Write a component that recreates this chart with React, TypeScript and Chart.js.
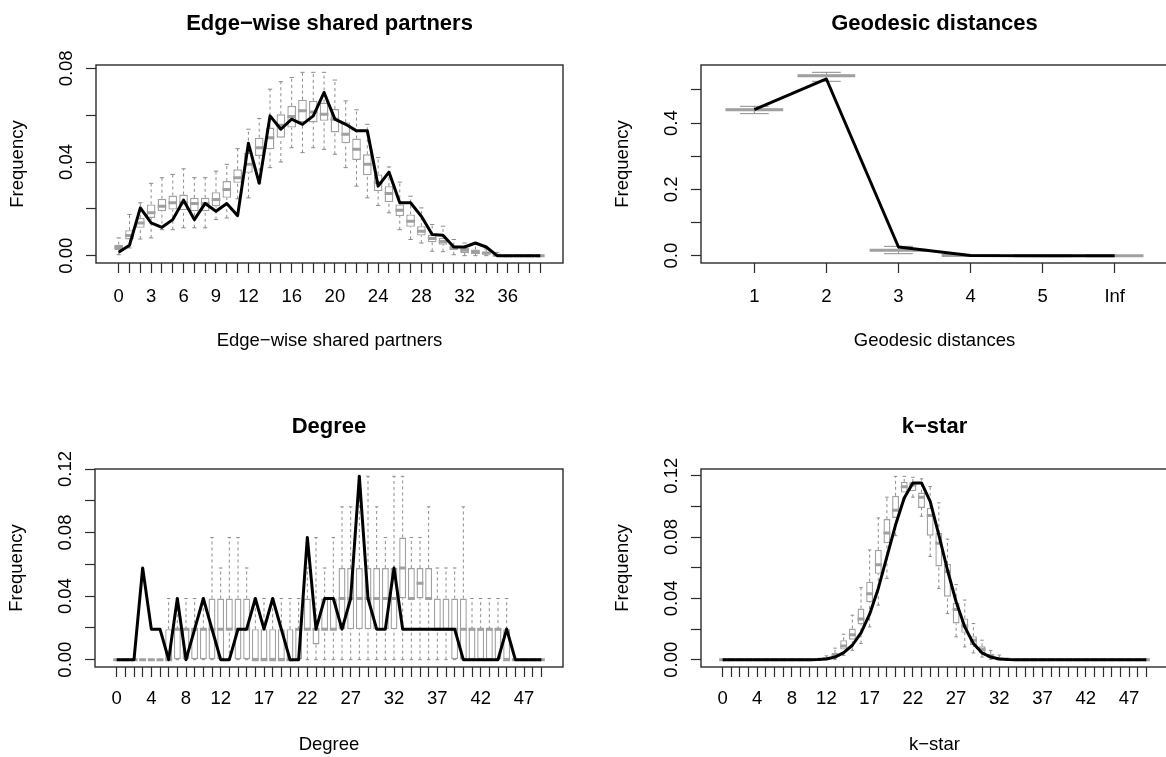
import React, { useEffect, useRef } from "react";
import { Chart, registerables } from "chart.js";

Chart.register(...registerables);

const FONT = "'Liberation Sans', Arial, Helvetica, sans-serif";

// ---------------- Panel 1: Edge-wise shared partners ----------------
const espTitle = "Edge\u2212wise shared partners";
const espCategories = ["0","1","2","3","4","5","6","7","8","9","10","11","12","13","14","15","16","17","18","19","20","21","22","23","24","25","26","27","28","29","30","31","32","33","34","35","36","37","38","39"];
const espShownLabels = ["0","3","6","9","12","16","20","24","28","32","36"];
const espObserved = [0.0015,0.0045,0.0204,0.0140,0.0121,0.0154,0.0237,0.0154,0.0223,0.0190,0.0223,0.0171,0.0480,0.0309,0.0597,0.0540,0.0583,0.0561,0.0597,0.0697,0.0583,0.0561,0.0533,0.0533,0.0297,0.0357,0.0226,0.0226,0.0168,0.0090,0.0087,0.0037,0.0037,0.0054,0.0037,0,0,0,0,0];
const espLower = [0.0004,0.0033,0.0071,0.0076,0.0111,0.0111,0.0119,0.0119,0.0119,0.0154,0.0161,0.0243,0.0247,0.0311,0.0376,0.0400,0.0461,0.0440,0.0461,0.0454,0.0433,0.0376,0.0297,0.0247,0.0214,0.0183,0.0111,0.0069,0.0054,0.0019,0.0017,0.0004,0,0,0,0,0,0,0,0];
const espQ1 = [0.0023,0.0069,0.0119,0.0161,0.0190,0.0197,0.0194,0.0190,0.0190,0.0211,0.0247,0.0311,0.0354,0.0426,0.0454,0.0504,0.0547,0.0569,0.0569,0.0576,0.0526,0.0480,0.0409,0.0343,0.0276,0.0229,0.0169,0.0123,0.0086,0.0057,0.0047,0.0023,0.0011,0.0007,0.0004,0,0,0,0,0];
const espMedian = [0.0035,0.0086,0.0140,0.0183,0.0211,0.0226,0.0226,0.0223,0.0223,0.0240,0.0283,0.0333,0.0390,0.0461,0.0504,0.0557,0.0594,0.0619,0.0614,0.0604,0.0583,0.0519,0.0454,0.0390,0.0311,0.0266,0.0194,0.0147,0.0104,0.0073,0.0061,0.0033,0.0023,0.0016,0.0011,0.0002,0,0,0,0];
const espQ3 = [0.0047,0.0109,0.0161,0.0219,0.0243,0.0257,0.0261,0.0247,0.0247,0.0271,0.0319,0.0369,0.0440,0.0504,0.0547,0.0604,0.0640,0.0666,0.0661,0.0654,0.0626,0.0570,0.0500,0.0433,0.0347,0.0297,0.0219,0.0176,0.0126,0.0090,0.0076,0.0043,0.0033,0.0026,0.0017,0.0006,0,0,0,0];
const espUpper = [0.0076,0.0176,0.0226,0.0309,0.0333,0.0347,0.0371,0.0333,0.0333,0.0361,0.0390,0.0457,0.0540,0.0586,0.0711,0.0743,0.0761,0.0783,0.0783,0.0783,0.0750,0.0661,0.0623,0.0561,0.0419,0.0379,0.0314,0.0254,0.0204,0.0133,0.0126,0.0069,0.0054,0.0047,0.0029,0.0014,0,0,0,0];
const espYTicks = [0, 0.02, 0.04, 0.06, 0.08];
const espYLabels = ["0.00", "", "0.04", "", "0.08"];

// ---------------- Panel 2: Geodesic distances ----------------
const geoTitle = "Geodesic distances";
const geoCategories = ["1","2","3","4","5","Inf"];
const geoShownLabels = ["1","2","3","4","5","Inf"];
const geoObserved = [0.4406,0.5332,0.0262,0.0005,0,0];
const geoLower = [0.4286,0.5262,0.0060,0,0,0];
const geoQ1 = [0.4370,0.5390,0.0130,0.0003,0,0];
const geoMedian = [0.4406,0.5433,0.0161,0.0008,0,0];
const geoQ3 = [0.4440,0.5470,0.0190,0.0013,0,0];
const geoUpper = [0.4507,0.5533,0.0282,0.0030,0.0002,0];
const geoYTicks = [0, 0.1, 0.2, 0.3, 0.4, 0.5];
const geoYLabels = ["0.0", "", "0.2", "", "0.4", ""];

// ---------------- Panel 3: Degree ----------------
const degTitle = "Degree";
const degCategories = ["0","1","2","3","4","5","6","7","8","9","10","11","12","13","14","15","16","17","18","19","20","21","22","23","24","25","26","27","28","29","30","31","32","33","34","35","36","37","38","39","40","41","42","43","44","45","46","47","48","49"];
const degShownLabels = ["0","4","8","12","17","22","27","32","37","42","47"];
const degObserved = [0,0,0,0.0577,0.0192,0.0192,0,0.0385,0,0.0192, 0.0385,0.0192,0,0,0.0192,0.0192,0.0385,0.0192,0.0385,0.0192, 0,0,0.0769,0.0192,0.0385,0.0385,0.0192,0.0385,0.1154,0.0385, 0.0192,0.0192,0.0577,0.0192,0.0192,0.0192,0.0192,0.0192,0.0192,0.0192, 0,0,0,0,0,0.0192,0,0,0,0];
const degLower = [0,0,0,0,0,0,0,0,0,0, 0,0,0,0,0,0,0,0,0,0, 0,0,0,0,0,0,0,0,0,0, 0,0,0,0,0,0,0,0,0,0, 0,0,0,0,0,0,0,0,0,0];
const degQ1 = [0,0,0,0,0,0,0,0,0,0, 0,0,0,0.0192,0,0,0,0,0,0, 0,0,0.0192,0.0096,0.0192,0.0192,0.0192,0.0192,0.0192,0.0192, 0.0192,0.0192,0.0192,0.0385,0.0385,0.0385,0.0385,0.0192,0.0192,0, 0,0,0,0,0,0,0,0,0,0];
const degMedian = [0,0,0,0,0,0,0,0.0192,0.0192,0.0192, 0.0192,0.0192,0.0192,0.0192,0.0192,0.0192,0,0,0,0, 0,0.0192,0.0192,0.0192,0.0192,0.0192,0.0385,0.0385,0.0385,0.0385, 0.0385,0.0385,0.0385,0.0577,0.0385,0.0481,0.0385,0.0192,0.0192,0.0192, 0.0192,0.0192,0.0192,0.0192,0.0192,0,0,0,0,0];
const degQ3 = [0,0,0,0,0,0,0.0192,0.0192,0.0192,0.0192, 0.0192,0.0385,0.0385,0.0385,0.0385,0.0385,0.0192,0.0192,0.0192,0.0192, 0.0192,0.0192,0.0385,0.0192,0.0385,0.0385,0.0577,0.0577,0.0577,0.0577, 0.0577,0.0577,0.0577,0.0769,0.0577,0.0577,0.0577,0.0385,0.0385,0.0385, 0.0385,0.0192,0.0192,0.0192,0.0192,0.0192,0,0,0,0];
const degUpper = [0,0,0,0,0,0,0.0385,0.0385,0.0385,0.0385, 0.0385,0.0769,0.0577,0.0769,0.0769,0.0577,0.0385,0.0385,0.0385,0.0385, 0.0385,0.0385,0.0577,0.0769,0.0577,0.0769,0.0962,0.0962,0.1154,0.1154, 0.0962,0.0769,0.1154,0.1154,0.0769,0.0769,0.0962,0.0577,0.0577,0.0577, 0.0962,0.0385,0.0385,0.0385,0.0385,0.0385,0,0,0,0];
const degYTicks = [0, 0.02, 0.04, 0.06, 0.08, 0.10, 0.12];
const degYLabels = ["0.00", "", "0.04", "", "0.08", "", "0.12"];

// ---------------- Panel 4: k-star ----------------
const ksTitle = "k\u2212star";
const ksCategories = ["0","1","2","3","4","5","6","7","8","9","10","11","12","13","14","15","16","17","18","19","20","21","22","23","24","25","26","27","28","29","30","31","32","33","34","35","36","37","38","39","40","41","42","43","44","45","46","47","48","49"];
const ksShownLabels = ["0","4","8","12","17","22","27","32","37","42","47"];
const ksObserved = [0,0,0,0,0,0,0,0,0,0, 0,0.0001,0.0004,0.0017,0.0046,0.0094,0.0175,0.0297,0.0465,0.0672, 0.0880,0.1055,0.1153,0.1153,0.1033,0.0814,0.0585,0.0378,0.0214,0.0105, 0.0044,0.0017,0.0004,0.0001,0,0,0,0,0,0, 0,0,0,0,0,0,0,0,0,0];
const ksLower = [0,0,0,0,0,0,0,0,0,0, 0,0,0,0.0002,0.0028,0.0061,0.0105,0.0214,0.0356,0.0530, 0.0809,0.1050,0.1060,0.0936,0.0673,0.0465,0.0301,0.0149,0.0083,0.0044, 0.0017,0.0002,0,0,0,0,0,0,0,0, 0,0,0,0,0,0,0,0,0,0];
const ksQ1 = [0,0,0,0,0,0,0,0,0,0, 0,0,0.0003,0.0017,0.0066,0.0130,0.0230,0.0375,0.0560,0.0760, 0.0925,0.1090,0.1100,0.0990,0.0809,0.0608,0.0411,0.0236,0.0175,0.0094, 0.0044,0.0013,0.0002,0,0,0,0,0,0,0, 0,0,0,0,0,0,0,0,0,0];
const ksMedian = [0,0,0,0,0,0,0,0,0,0, 0,0.0001,0.0007,0.0028,0.0090,0.0162,0.0265,0.0430,0.0620,0.0826, 0.0975,0.1128,0.1140,0.1060,0.0940,0.0760,0.0575,0.0328,0.0219,0.0127, 0.0066,0.0024,0.0006,0.0001,0,0,0,0,0,0, 0,0,0,0,0,0,0,0,0,0];
const ksQ3 = [0,0,0,0,0,0,0,0,0,0, 0,0.0003,0.0012,0.0044,0.0127,0.0203,0.0334,0.0509,0.0716,0.0917, 0.1069,0.1160,0.1160,0.1090,0.0990,0.0826,0.0625,0.0371,0.0269,0.0153, 0.0087,0.0039,0.0013,0.0003,0,0,0,0,0,0, 0,0,0,0,0,0,0,0,0,0];
const ksUpper = [0,0,0,0,0,0,0,0,0,0, 0,0.0008,0.0025,0.0075,0.0166,0.0290,0.0470,0.0716,0.0925,0.1060, 0.1196,0.1196,0.1190,0.1180,0.1130,0.1023,0.0787,0.0490,0.0389,0.0236, 0.0127,0.0060,0.0030,0.0010,0,0,0,0,0,0, 0,0,0,0,0,0,0,0,0,0];
const ksYTicks = [0, 0.02, 0.04, 0.06, 0.08, 0.10, 0.12];
const ksYLabels = ["0.00", "", "0.04", "", "0.08", "", "0.12"];

// ---------------- panel specs (built from the arrays) ----------------
const panels = [
  { title: espTitle, xTitle: espTitle, categories: espCategories, shown: espShownLabels, observed: espObserved, lower: espLower, q1: espQ1, median: espMedian, q3: espQ3, upper: espUpper, yTicks: espYTicks, yLabels: espYLabels, xMin: -2.1, xMax: 41.1, yMin: -0.00313, yMax: 0.08143 },
  { title: geoTitle, xTitle: geoTitle, categories: geoCategories, shown: geoShownLabels, observed: geoObserved, lower: geoLower, q1: geoQ1, median: geoMedian, q3: geoQ3, upper: geoUpper, yTicks: geoYTicks, yLabels: geoYLabels, xMin: -0.74, xMax: 5.74, yMin: -0.0221, yMax: 0.5754 },
  { title: degTitle, xTitle: degTitle, categories: degCategories, shown: degShownLabels, observed: degObserved, lower: degLower, q1: degQ1, median: degMedian, q3: degQ3, upper: degUpper, yTicks: degYTicks, yLabels: degYLabels, xMin: -2.5, xMax: 51.5, yMin: -0.00462, yMax: 0.12 },
  { title: ksTitle, xTitle: ksTitle, categories: ksCategories, shown: ksShownLabels, observed: ksObserved, lower: ksLower, q1: ksQ1, median: ksMedian, q3: ksQ3, upper: ksUpper, yTicks: ksYTicks, yLabels: ksYLabels, xMin: -2.5, xMax: 51.5, yMin: -0.00478, yMax: 0.1244 },
];

// layout of each panel on the page
const geoms = [
  { left: 0, top: 0, width: 583, height: 378, padRight: 20, padBottom: 25.9, yAxisWidth: 96, xAxisHeight: 89.1, titlePadTop: 10.3, titlePadBottom: 28.3, yTitlePad: 6.9, yTickPad: 1, xTickPad: 13 },
  { left: 583, top: 0, width: 600, height: 378, padRight: 15, padBottom: 25.9, yAxisWidth: 118, xAxisHeight: 89.1, titlePadTop: 10.3, titlePadBottom: 28.3, yTitlePad: 28.9, yTickPad: 6, xTickPad: 13 },
  { left: 0, top: 378, width: 583, height: 379, padRight: 20, padBottom: 0.9, yAxisWidth: 95, xAxisHeight: 89.1, titlePadTop: 35.3, titlePadBottom: 29.3, yTitlePad: 5.9, yTickPad: 1, xTickPad: 11 },
  { left: 583, top: 378, width: 600, height: 379, padRight: 15, padBottom: 0.9, yAxisWidth: 118, xAxisHeight: 89.1, titlePadTop: 35.3, titlePadBottom: 29.3, yTitlePad: 28.9, yTickPad: 1, xTickPad: 11 },
];

const AXIS_COLOR = "#2b2b2b";
const BOX_GRAY = "#a0a0a0";
const MEDIAN_GRAY = "#a0a0a0";
const WHISKER_GRAY = "#8c8c8c";

const framePlugin = {
  id: "rframe",
  afterDatasetsDraw(chart: any) {
    const { ctx, chartArea } = chart;
    ctx.save();
    ctx.strokeStyle = AXIS_COLOR;
    ctx.lineWidth = 1.4;
    ctx.strokeRect(chartArea.left, chartArea.top, chartArea.right - chartArea.left, chartArea.bottom - chartArea.top);
    ctx.restore();
  },
};

function buildDatasets(spec: any) {
  const { categories, observed, lower, q1, median, q3, upper } = spec;
  const boxes = {
    type: "bar",
    order: 4,
    data: categories.map((_: string, i: number) => ({ x: i, y: [q1[i], q3[i]] })),
    backgroundColor: "#ffffff",
    borderColor: BOX_GRAY,
    borderWidth: 1.4,
    borderSkipped: false,
    barPercentage: 0.8,
    categoryPercentage: 1,
    grouped: false,
  };
  const whiskers = {
    type: "line",
    order: 3,
    data: categories.flatMap((_: string, i: number) => [
      { x: i, y: q3[i] }, { x: i, y: upper[i] }, { x: i, y: null },
      { x: i, y: lower[i] }, { x: i, y: q1[i] }, { x: i, y: null },
    ]),
    borderColor: WHISKER_GRAY,
    borderWidth: 1,
    borderDash: [3, 3],
    pointRadius: 0,
    spanGaps: false,
    fill: false,
  };
  const caps = {
    type: "line",
    order: 2,
    data: categories.flatMap((_: string, i: number) => [
      { x: i - 0.2, y: upper[i] }, { x: i + 0.2, y: upper[i] }, { x: i + 0.2, y: null },
      { x: i - 0.2, y: lower[i] }, { x: i + 0.2, y: lower[i] }, { x: i + 0.2, y: null },
    ]),
    borderColor: WHISKER_GRAY,
    borderWidth: 1,
    pointRadius: 0,
    spanGaps: false,
    fill: false,
  };
  const medians = {
    type: "line",
    order: 1,
    data: categories.flatMap((_: string, i: number) => [
      { x: i - 0.4, y: median[i] }, { x: i + 0.4, y: median[i] }, { x: i + 0.4, y: null },
    ]),
    borderColor: MEDIAN_GRAY,
    borderWidth: 3,
    borderCapStyle: "butt",
    pointRadius: 0,
    spanGaps: false,
    fill: false,
  };
  const obs = {
    type: "line",
    order: 0,
    data: categories.map((_: string, i: number) => ({ x: i, y: observed[i] })),
    borderColor: "#000000",
    borderWidth: 3,
    borderJoinStyle: "round",
    pointRadius: 0,
    fill: false,
    tension: 0,
  };
  return [obs, medians, caps, whiskers, boxes];
}

function buildConfig(spec: any, g: any) {
  const tickFont = { family: FONT, size: 18.5 };
  return {
    type: "bar",
    data: { datasets: buildDatasets(spec) },
    options: {
      responsive: false,
      animation: false,
      events: [],
      layout: { padding: { left: 0, right: g.padRight, top: 0, bottom: g.padBottom } },
      plugins: {
        legend: { display: false },
        tooltip: { enabled: false },
        title: {
          display: true,
          text: spec.title,
          fullSize: false,
          color: "#000",
          font: { family: FONT, size: 22, weight: "bold", lineHeight: 1.2 },
          padding: { top: g.titlePadTop, bottom: g.titlePadBottom },
        },
      },
      scales: {
        x: {
          type: "linear",
          min: spec.xMin,
          max: spec.xMax,
          bounds: "data",
          offset: false,
          afterBuildTicks: (s: any) => {
            s.ticks = spec.categories.map((_: string, i: number) => ({ value: i }));
          },
          afterFit: (s: any) => {
            s.height = g.xAxisHeight;
          },
          ticks: {
            autoSkip: false,
            maxRotation: 0,
            minRotation: 0,
            padding: g.xTickPad,
            color: "#000",
            font: tickFont,
            callback: (_v: any, i: number) => (spec.shown.includes(spec.categories[i]) ? spec.categories[i] : ""),
          },
          grid: { display: true, drawOnChartArea: false, drawTicks: true, tickLength: 10, tickColor: AXIS_COLOR, tickWidth: 1.2, offset: false },
          border: { display: false },
          title: { display: true, text: spec.xTitle, color: "#000", font: { family: FONT, size: 18.5, lineHeight: 1.2 }, padding: { top: 0, bottom: 0 } },
        },
        y: {
          type: "linear",
          min: spec.yMin,
          max: spec.yMax,
          bounds: "data",
          afterBuildTicks: (s: any) => {
            s.ticks = spec.yTicks.map((v: number) => ({ value: v }));
          },
          afterFit: (s: any) => {
            s.width = g.yAxisWidth;
          },
          ticks: {
            autoSkip: false,
            minRotation: 90,
            maxRotation: 90,
            crossAlign: "center",
            padding: g.yTickPad,
            color: "#000",
            font: tickFont,
            callback: (_v: any, i: number) => spec.yLabels[i] ?? "",
          },
          grid: { display: true, drawOnChartArea: false, drawTicks: true, tickLength: 10, tickColor: AXIS_COLOR, tickWidth: 1.2 },
          border: { display: false },
          title: { display: true, text: "Frequency", color: "#000", font: { family: FONT, size: 18.5, lineHeight: 1.2 }, padding: { top: g.yTitlePad, bottom: 0 } },
        },
      },
    },
    plugins: [framePlugin],
  };
}

function Panel({ spec, geo }: { spec: any; geo: any }) {
  const ref = useRef<HTMLCanvasElement>(null);
  useEffect(() => {
    if (!ref.current) return;
    const chart = new Chart(ref.current, buildConfig(spec, geo) as any);
    return () => chart.destroy();
  }, [spec, geo]);
  return (
    <canvas
      ref={ref}
      width={geo.width}
      height={geo.height}
      style={{ position: "absolute", left: geo.left, top: geo.top, width: geo.width, height: geo.height }}
    />
  );
}

export default function App() {
  return (
    <div style={{ position: "fixed", left: 0, top: 0, width: 1166, height: 757, overflow: "hidden", background: "#ffffff" }}>
      {panels.map((p, i) => (
        <Panel key={i} spec={p} geo={geoms[i]} />
      ))}
    </div>
  );
}
